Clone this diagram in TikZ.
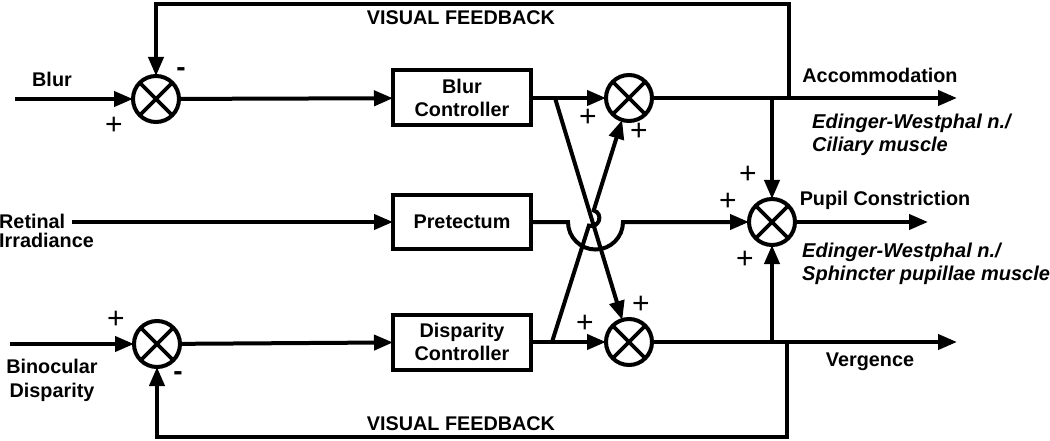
\documentclass[tikz,border=0pt]{standalone}
\usepackage{fontspec}
\setmainfont{Liberation Sans}
\usetikzlibrary{arrows.meta}
\begin{document}
\begin{tikzpicture}[x=1pt,y=-1pt,
  every node/.style={font=\fontsize{19.8}{21}\selectfont\bfseries},
  ln/.style={line width=4pt},
  arr/.style={ln,-{Triangle[length=19pt,width=15pt]}},
  sumj/.style={circle,draw,line width=4pt,minimum size=46pt,inner sep=0pt,outer sep=0pt,
    path picture={\draw[line width=3.6pt]
      (path picture bounding box.north west) -- (path picture bounding box.south east)
      (path picture bounding box.north east) -- (path picture bounding box.south west);}},
  blk/.style={draw,line width=4pt,minimum width=138pt,align=center,inner sep=0pt,outer sep=0pt},
  sgn/.style={font=\fontsize{30}{30}\selectfont\mdseries,inner sep=0pt},
  neg/.style={font=\fontsize{28}{28}\selectfont\bfseries,inner sep=0pt},
  ital/.style={font=\fontsize{20}{22.5}\selectfont\bfseries\itshape,align=left,anchor=west,inner sep=0pt}
]
\useasboundingbox (0,0) rectangle (1050,441);

% summing junctions
\node[sumj] (s1) at (156,99) {};
\node[sumj] (s2) at (629,98) {};
\node[sumj] (s3) at (629,342) {};
\node[sumj] (s4) at (157,344) {};
\node[sumj] (sp) at (772,222) {};

% blocks
\node[blk,minimum height=55pt] (bc) at (462,98) {Blur\\[2pt]Controller};
\node[blk,minimum height=54pt] (pt) at (462,222) {Pretectum};
\node[blk,minimum height=55pt] (dc) at (462,342) {Disparity\\[2pt]Controller};

% coordinates
\coordinate (blurin) at (15,99);
\coordinate (retin) at (72,222);
\coordinate (binin) at (10,344);
\coordinate (bs) at (555,98);
\coordinate (ds) at (552,342);
\coordinate (accend) at (957,98);
\coordinate (verend) at (957,342);
\coordinate (pupend) at (928,222);
\coordinate (fbt) at (789,98);
\coordinate (fbtc) at (789,4);
\coordinate (fbtl) at (156,4);
\coordinate (fbb) at (787,342);
\coordinate (fbbc) at (787,437);
\coordinate (fbbl) at (157,437);
\coordinate (aj) at (772,98);
\coordinate (vj) at (772,342);
\coordinate (hopa) at (568,222);
\coordinate (hopb) at (623,222);
\coordinate (ha) at (588.9,225.6);
\coordinate (hc1) at (599.1,228.8);
\coordinate (hc2) at (603.9,213.6);
\coordinate (hb) at (593.7,210.4);

% inputs
\draw[arr] (blurin) -- (s1);
\draw[arr] (binin) -- (s4);
\draw[arr] (retin) -- (pt);
\draw[arr] (s1) -- (bc);
\draw[arr] (s4) -- (dc);

% controllers to second sums
\draw[arr] (bc) -- (s2);
\draw[arr] (dc) -- (s3);
\draw[arr] (bs) -- (s3);
\draw[arr] (ds) -- (ha) .. controls (hc1) and (hc2) .. (hb) -- (s2);

% pretectum with hop
\draw[arr] (pt) -- (hopa) arc[start angle=180,end angle=360,radius=27.5pt] -- (sp);

% outputs
\draw[arr] (s2) -- (accend);
\draw[arr] (s3) -- (verend);
\draw[arr] (sp) -- (pupend);
\draw[arr] (aj) -- (sp);
\draw[arr] (vj) -- (sp);

% feedback
\draw[arr,line join=miter] (fbt) -- (fbtc) -- (fbtl) -- (s1);
\draw[arr,line join=miter] (fbb) -- (fbbc) -- (fbbl) -- (s4);

% labels
\node (lblur) at (52,79) {Blur};
\node[align=left,anchor=west,inner sep=0pt] (lret) at (-1,231) {Retinal\\[-2pt]Irradiance};
\node[align=center,inner sep=0pt] (lbin) at (52,380) {Binocular\\[3pt]Disparity};
\node (lvf1) at (461,18) {VISUAL FEEDBACK};
\node (lvf2) at (461,424) {VISUAL FEEDBACK};
\node (lacc) at (880,75) {Accommodation};
\node (lpup) at (885,200) {Pupil Constriction};
\node (lver) at (870,362) {Vergence};
\node[ital] (le1) at (812,135) {Edinger-Westphal n./\\Ciliary muscle};
\node[ital] (le2) at (802,264) {Edinger-Westphal n./\\Sphincter pupillae muscle};

% signs
\node[sgn] at (114,126) {+};
\node[neg] at (181,72) {-};
\node[sgn] at (116,320) {+};
\node[neg] at (178,376) {-};
\node[sgn] at (588,118) {+};
\node[sgn] at (639,132) {+};
\node[sgn] at (585,324) {+};
\node[sgn] at (641,305) {+};
\node[sgn] at (748,175) {+};
\node[sgn] at (728,202) {+};
\node[sgn] at (745,260) {+};
\end{tikzpicture}
\end{document}
